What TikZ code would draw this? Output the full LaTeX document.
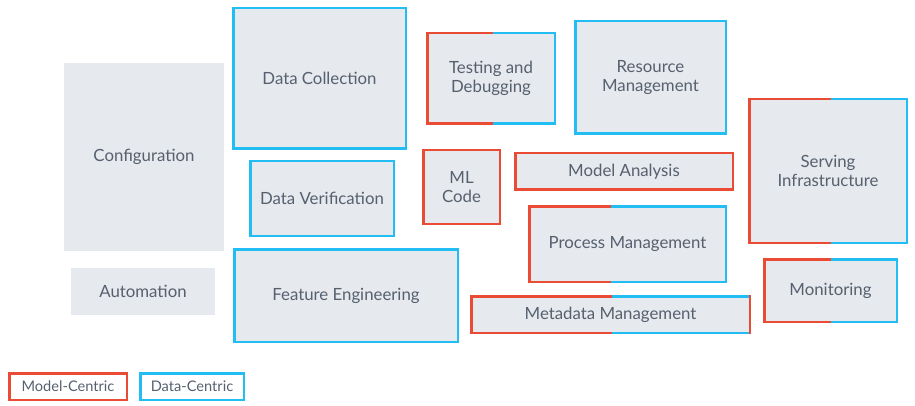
\documentclass[tikz,border=0pt]{standalone}
\usepackage{fontspec}
\setmainfont{Lato}
\usepackage{xcolor}
\definecolor{mred}{HTML}{E94B35}
\definecolor{dblue}{HTML}{22BDF3}
\definecolor{boxgray}{HTML}{E6E9ED}
\definecolor{txtgray}{HTML}{56606F}
\newcommand{\frameW}{2.5pt}

\begin{document}
\begin{tikzpicture}[x=1pt, y=-1pt,
	box/.style={fill=boxgray, text=txtgray, align=center, inner sep=0pt, outer sep=0pt,
		font=\fontsize{16.8}{19.5}\selectfont},
	modelbox/.style={box, draw=mred, line width=\frameW},
	databox/.style={box, draw=dblue, line width=\frameW},
	legendbox/.style={draw, line width=\frameW, text=txtgray, inner sep=0pt, outer sep=0pt,
		font=\fontsize{14.6}{17}\selectfont, minimum height=26.5}]
	\useasboundingbox (0,0) rectangle (915,406);

	% left column
	\node[box, minimum width=160, minimum height=188] (conf) at (144,157) {Configuration};
	\node[box, minimum width=144, minimum height=47] (auto) at (143,291.5) {Automation};

	% data side
	\node[databox, minimum width=172.5, minimum height=140.5] (dcol) at (319.5,78.5) {Data Collection};
	\node[databox, minimum width=143.5, minimum height=74.5] (dver) at (322,198.5) {Data Verification};
	\node[databox, minimum width=223.5, minimum height=92.5] (feat) at (346,295.5) {Feature Engineering};
	\node[databox, minimum width=150.5, minimum height=112.5] (res) at (650.5,77.5) {Resource\\Management};

	% model side
	\node[modelbox, minimum width=76.5, minimum height=73.5] (mlc) at (461.5,187) {ML\\Code};
	\node[modelbox, minimum width=217.5, minimum height=36.5] (mana) at (624,171.5) {Model Analysis};

	% both, red on the left and blue on the right
	\node[modelbox, minimum width=127.5, minimum height=90.5] (test) at (491,78.5) {Testing and\\Debugging};
	\node[modelbox, minimum width=196.5, minimum height=75.5] (proc) at (627.5,244) {Process Management};
	\node[modelbox, minimum width=278.5, minimum height=36.5] (meta) at (610.5,314.5) {Metadata Management};
	\node[modelbox, minimum width=157.5, minimum height=143.5] (serv) at (828,171) {Serving\\Infrastructure};
	\node[modelbox, minimum width=132.5, minimum height=62.5] (moni) at (830.5,290.5) {Monitoring};

	\coordinate (testsplit) at (493,0);
	\coordinate (procsplit) at (611,0);
	\coordinate (metasplit) at (612,0);
	\coordinate (servsplit) at (831,0);
	\coordinate (monisplit) at (831,0);

	\foreach \n in {test,proc,serv,moni}{
		\draw[dblue, line width=\frameW] (\n.north -| \n split) -- (\n.north east)
			-- (\n.south east) -- (\n.south -| \n split);
	}
	\draw[dblue, line width=\frameW] (meta.north -| metasplit) -- ([xshift=-1.25pt]meta.north east);
	\draw[dblue, line width=\frameW] (meta.south -| metasplit) -- ([xshift=-1.25pt]meta.south east);

	% legend
	\node[legendbox, draw=mred, minimum width=117.5] (lmod) at (68,386.5) {Model-Centric};
	\node[legendbox, draw=dblue, minimum width=103.5] (ldat) at (192,386.5) {Data-Centric};
\end{tikzpicture}
\end{document}
